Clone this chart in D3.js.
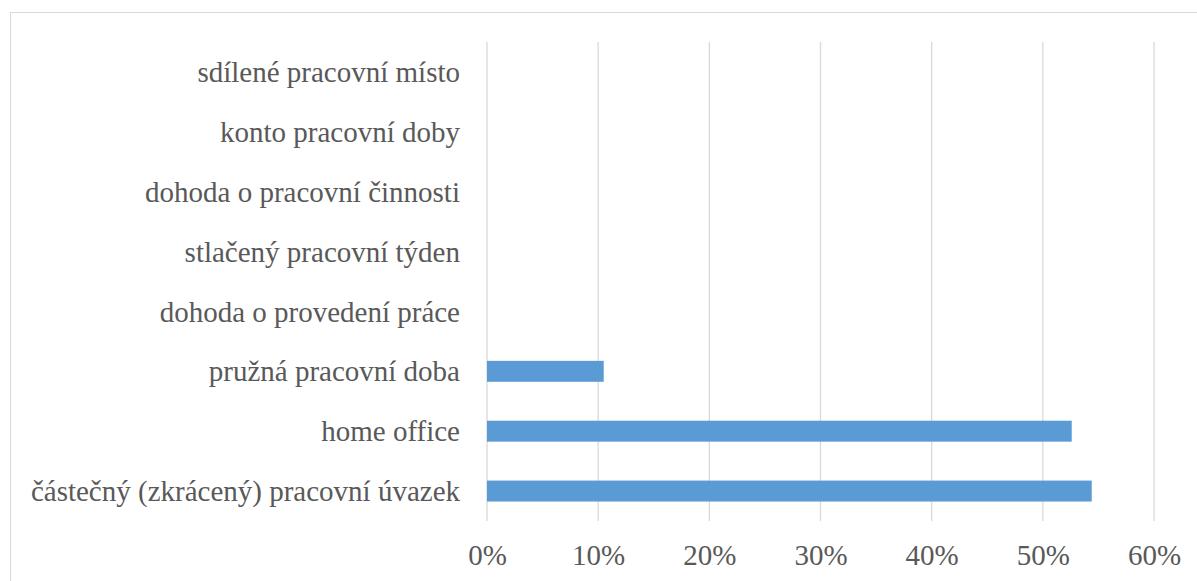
<!DOCTYPE html>
<html>
<head>
<meta charset="utf-8">
<script src="https://cdn.jsdelivr.net/npm/d3@7"></script>
<style>
  body { margin: 0; background: #fff; }
  svg { display: block; }
</style>
</head>
<body>
<svg width="1197" height="581"></svg>
<script>
// categories from top to bottom
var categories = [
  "sdílené pracovní místo",
  "konto pracovní doby",
  "dohoda o pracovní činnosti",
  "stlačený pracovní týden",
  "dohoda o provedení práce",
  "pružná pracovní doba",
  "home office",
  "částečný (zkrácený) pracovní úvazek"
];
var values = [0, 0, 0, 0, 0, 0.105, 0.526, 0.544];
var ticks = [0, 0.1, 0.2, 0.3, 0.4, 0.5, 0.6];

var font = "'Liberation Serif'";
var svg = d3.select("svg");

// outer border of the chart area
svg.append("rect")
  .attr("x", 10.5).attr("y", 12.5)
  .attr("width", 1200).attr("height", 600)
  .attr("fill", "none").attr("stroke", "#d9d9d9").attr("stroke-width", 1);

var x = d3.scaleLinear().domain([0, 0.6]).range([487, 1154]);
var y = d3.scaleBand().domain(categories).range([42, 521]).paddingInner(0.65).paddingOuter(0.325);

// gridlines
svg.selectAll("line.grid").data(ticks)
  .enter().append("line")
  .attr("class", "grid")
  .attr("x1", function(d) { return x(d); })
  .attr("x2", function(d) { return x(d); })
  .attr("y1", 42).attr("y2", 521)
  .attr("stroke", "#d9d9d9").attr("stroke-width", 1.3);

// bars
svg.selectAll("rect.bar").data(values)
  .enter().append("rect")
  .attr("class", "bar")
  .attr("x", x(0))
  .attr("y", function(d, i) { return y(categories[i]); })
  .attr("width", function(d) { return x(d) - x(0); })
  .attr("height", y.bandwidth())
  .attr("fill", "#5b9bd5");

// category labels
svg.selectAll("text.cat").data(categories)
  .enter().append("text")
  .attr("class", "cat")
  .attr("x", 460)
  .attr("y", function(d) { return y(d) + y.bandwidth() / 2; })
  .attr("dy", "0.35em")
  .attr("text-anchor", "end")
  .style("font-family", font)
  .style("font-size", "29px")
  .attr("fill", "#595959")
  .text(function(d) { return d; });

// x axis tick labels
var axis = d3.axisBottom(x).tickValues(ticks).tickSize(0).tickPadding(0).tickFormat(d3.format(".0%"));
var g = svg.append("g").attr("transform", "translate(0,544)").call(axis);
g.select(".domain").remove();
g.selectAll("text")
  .style("font-family", font)
  .style("font-size", "29px")
  .attr("fill", "#595959");
</script>
</body>
</html>
